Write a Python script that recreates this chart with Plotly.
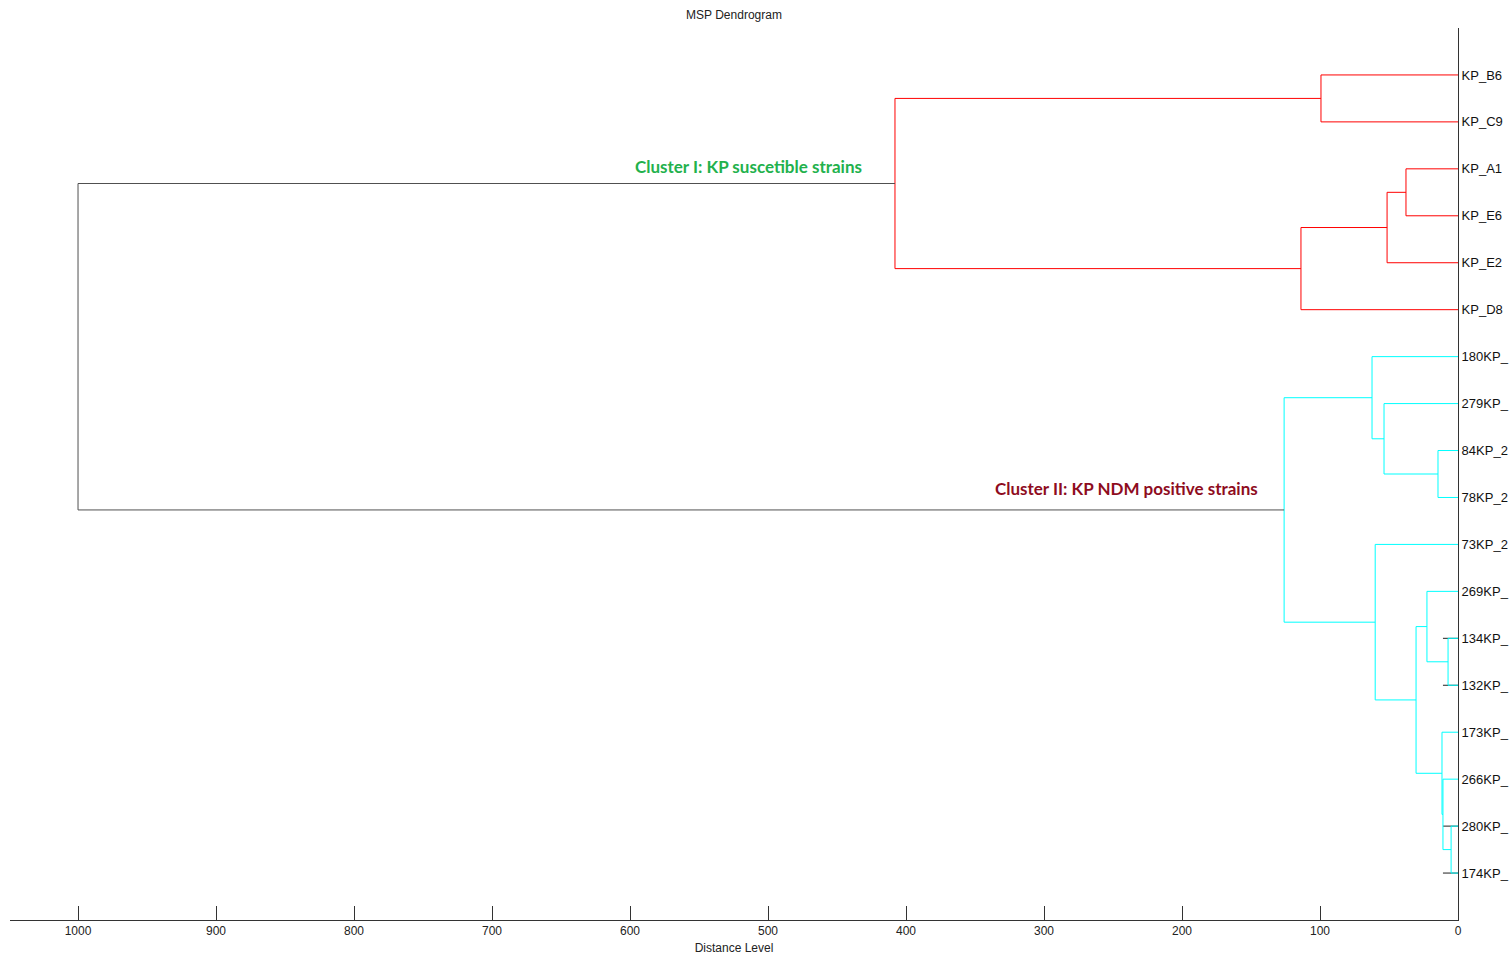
import plotly.graph_objects as go

# Strains in dendrogram leaf order (top to bottom)
leaf_labels = ["KP_B6", "KP_C9", "KP_A1", "KP_E6", "KP_E2", "KP_D8",
               "180KP_", "279KP_", "84KP_2", "78KP_2", "73KP_2", "269KP_",
               "134KP_", "132KP_", "173KP_", "266KP_", "280KP_", "174KP_"]
leaf_group = ["I"] * 6 + ["II"] * 12

# Linkage: node n_leaves + k joins (merge_left[k], merge_right[k]) at merge_dist[k]
merge_left = [16, 12, 15, 14, 8, 11, 23, 2, 25, 7, 10, 6, 0, 26, 29, 30, 33]
merge_right = [17, 13, 18, 20, 9, 19, 21, 3, 4, 22, 24, 27, 1, 5, 28, 31, 32]
merge_dist = [5.0, 7.2, 10.9, 11.6, 14.5, 22.5, 30.4, 37.7, 51.4, 53.6,
              60.0, 62.3, 99.3, 113.8, 126.0, 408.0, 1000.0]

# Leaves that carry a short dark stub up to this distance level
stub_leaves = [12, 13, 16, 17]
stub_dist = [10.9, 10.9, 10.9, 10.9]

x_ticks = [0, 100, 200, 300, 400, 500, 600, 700, 800, 900, 1000]

group_colors = {"I": "#ff0000", "II": "#00ffff", None: "#505050"}

n = len(leaf_labels)
node_y = {i: i + 1 for i in range(n)}
node_h = {i: 0.0 for i in range(n)}
node_grp = {i: leaf_group[i] for i in range(n)}

segs = {"I": ([], []), "II": ([], []), None: ([], [])}
for k, (a, b, d) in enumerate(zip(merge_left, merge_right, merge_dist)):
    idx = n + k
    node_y[idx] = (node_y[a] + node_y[b]) / 2
    node_h[idx] = d
    g = node_grp[a] if node_grp[a] == node_grp[b] else None
    node_grp[idx] = g
    xs, ys = segs[g]
    xs += [node_h[a], d, d, node_h[b], None]
    ys += [node_y[a], node_y[a], node_y[b], node_y[b], None]

fig = go.Figure()

# dark stubs drawn first so coloured branches sit on top
sx, sy = [], []
for leaf, d in zip(stub_leaves, stub_dist):
    sx += [0, d, None]
    sy += [node_y[leaf], node_y[leaf], None]
fig.add_trace(go.Scatter(x=sx, y=sy, mode="lines",
                         line=dict(color="#202020", width=1),
                         hoverinfo="skip", showlegend=False))

for g in ["I", "II", None]:
    xs, ys = segs[g]
    fig.add_trace(go.Scatter(x=xs, y=ys, mode="lines",
                             line=dict(color=group_colors[g], width=1),
                             hoverinfo="skip", showlegend=False))

fig.add_annotation(x=430.4, y=2.94, xref="x", yref="y", xanchor="right",
                   yanchor="middle", showarrow=False,
                   text="<b>Cluster I: KP suscetible strains</b>",
                   font=dict(family="Lato", size=17, color="#22b14c"))
fig.add_annotation(x=143.5, y=9.8, xref="x", yref="y", xanchor="right",
                   yanchor="middle", showarrow=False,
                   text="<b>Cluster II: KP NDM positive strains</b>",
                   font=dict(family="Lato", size=17, color="#8e0c1e"))

fig.update_layout(
    width=1512, height=956,
    margin=dict(l=10, r=54, t=28, b=36),
    paper_bgcolor="white", plot_bgcolor="white",
    font=dict(family="Liberation Sans, Arial, sans-serif", size=12, color="#222"),
    title=dict(text="MSP Dendrogram", x=0.5, xref="paper", xanchor="center",
               y=0.985, yref="container", yanchor="middle",
               font=dict(size=12, color="#222")),
    xaxis=dict(range=[1049.3, 0], autorange=False, tickvals=x_ticks,
               ticks="inside", ticklen=14, tickcolor="#333", tickwidth=1,
               showline=True, linecolor="#333", linewidth=1,
               showgrid=False, zeroline=False, automargin=False,
               tickfont=dict(size=12, color="#222"),
               title=dict(text="Distance Level", standoff=6,
                          font=dict(size=12, color="#222"))),
    yaxis=dict(range=[19, 0], autorange=False, side="right",
               tickvals=list(range(1, n + 1)), ticktext=leaf_labels,
               ticks="", showline=True, linecolor="#333", linewidth=1,
               showgrid=False, zeroline=False, ticklabelstandoff=0,
               automargin=False,
               tickfont=dict(size=13, color="#111")),
)

fig.write_html("out.html")
